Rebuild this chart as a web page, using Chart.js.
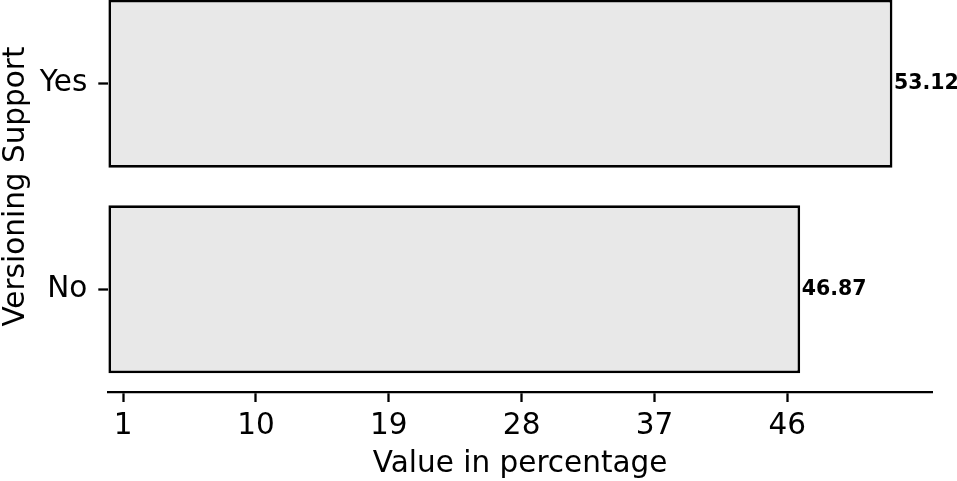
<!DOCTYPE html>
<html>
<head>
<meta charset="utf-8">
<script src="https://cdn.jsdelivr.net/npm/chart.js@4"></script>
<style>
  html, body { margin: 0; padding: 0; background: #fff; overflow: hidden; }
  #wrap { position: absolute; left: 0; top: -19px; }
</style>
</head>
<body>
<div id="wrap"><canvas id="myChart" width="957" height="500"></canvas></div>
<script>
// data
var categories = ['Yes', 'No'];
var values = [53.12, 46.87];
var xTicks = [1, 10, 19, 28, 37, 46];

var FONT = "'DejaVu Sans', sans-serif";

// value labels at the end of each bar
var barLabels = {
    id: 'barLabels',
    afterDatasetsDraw: function (chart) {
        var ctx = chart.ctx;
        var meta = chart.getDatasetMeta(0);
        ctx.save();
        ctx.font = 'bold 20.5px ' + FONT;
        ctx.fillStyle = '#000';
        ctx.textAlign = 'left';
        ctx.textBaseline = 'middle';
        meta.data.forEach(function (bar, i) {
            ctx.fillText(values[i].toFixed(2), bar.x + 1.5, bar.y);
        });
        ctx.restore();
    }
};

var ctx = document.getElementById('myChart').getContext('2d');
var chart = new Chart(ctx, {
    type: 'bar',
    data: {
        labels: categories,
        datasets: [{
            data: values,
            backgroundColor: '#e8e8e8',
            borderColor: '#000',
            borderWidth: 2.7,
            borderSkipped: false,
            barPercentage: 0.8175,
            categoryPercentage: 1.0
        }]
    },
    options: {
        indexAxis: 'y',
        responsive: false,
        animation: false,
        devicePixelRatio: 1,
        layout: { padding: { left: 0, right: 25, top: 0, bottom: 0 } },
        plugins: {
            legend: { display: false },
            tooltip: { enabled: false }
        },
        scales: {
            x: {
                min: 0,
                max: 55.8,
                afterBuildTicks: function (scale) {
                    scale.ticks = xTicks.map(function (v) { return { value: v }; });
                },
                afterFit: function (scale) {
                    scale.height = 89;
                },
                border: { display: true, color: '#000', width: 2.3 },
                grid: {
                    drawOnChartArea: false,
                    drawTicks: true,
                    tickLength: 10,
                    tickWidth: 2.3,
                    tickColor: '#000'
                },
                ticks: {
                    color: '#000',
                    font: { family: FONT, size: 29.5 },
                    padding: 6.5,
                    maxRotation: 0,
                    autoSkip: false
                },
                title: {
                    display: true,
                    text: 'Value in percentage',
                    color: '#000',
                    font: { family: FONT, size: 29.5, lineHeight: 1.1 },
                    padding: { top: 0, bottom: 0 }
                }
            },
            y: {
                afterFit: function (scale) {
                    scale.width = 108.3;
                    scale.paddingTop = 0;
                    scale.paddingBottom = 0;
                },
                border: { display: false },
                grid: {
                    offset: false,
                    drawOnChartArea: false,
                    drawTicks: true,
                    tickLength: 10,
                    tickWidth: 2.3,
                    tickColor: '#000'
                },
                ticks: {
                    color: '#000',
                    font: { family: FONT, size: 29.5 },
                    padding: 11
                },
                title: {
                    display: true,
                    text: 'Versioning Support',
                    color: '#000',
                    font: { family: FONT, size: 29.5, lineHeight: 1.1 },
                    padding: { top: 0, bottom: 0 }
                }
            }
        }
    },
    plugins: [barLabels]
});
</script>
</body>
</html>
